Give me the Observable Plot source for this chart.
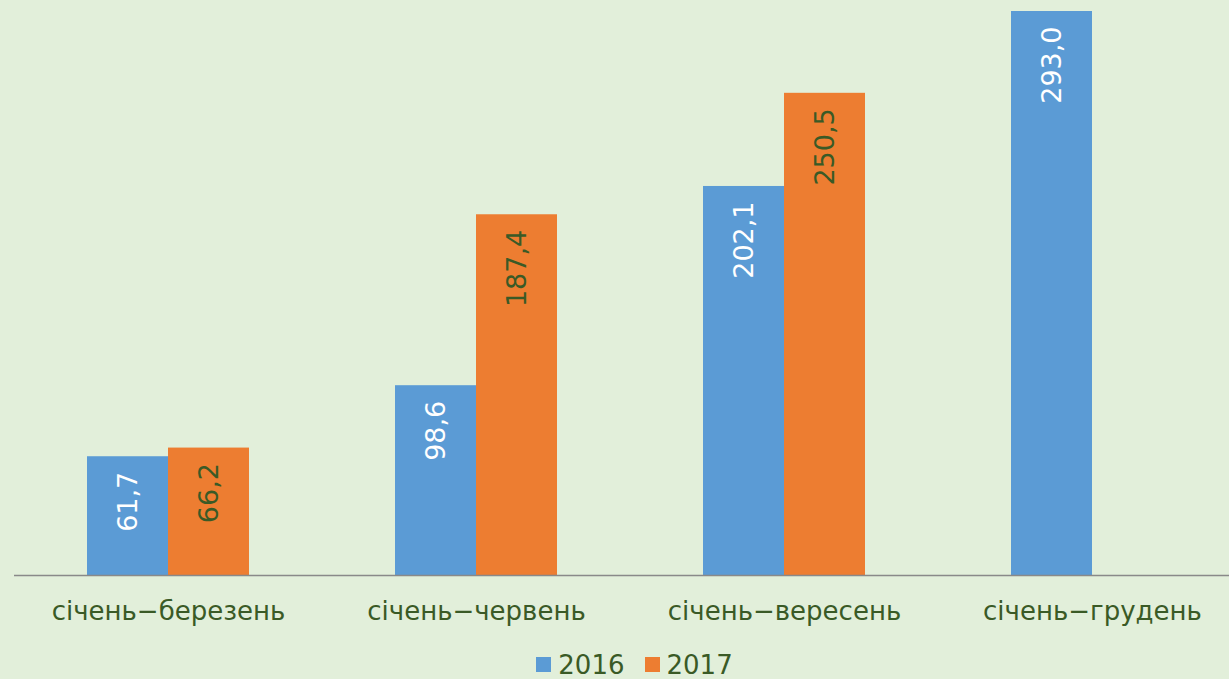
<!DOCTYPE html>
<html><head><meta charset="utf-8">
<script src="https://cdn.jsdelivr.net/npm/d3@7"></script>
<script src="https://cdn.jsdelivr.net/npm/@observablehq/plot@0.6"></script>
<style>
html,body{margin:0;padding:0;background:#e2efda;width:1229px;height:679px;overflow:hidden;font-family:"DejaVu Sans",Verdana,sans-serif;}
#chart svg{display:block;}
#legend{display:flex;justify-content:center;align-items:center;height:29px;font-size:26px;color:#3a5a26;padding-left:40px;}
#legend .item{display:flex;align-items:center;margin:0 10px;}
#legend .sw{width:15px;height:15px;margin-right:7px;}
</style></head><body><div id="chart"></div><div id="legend"></div>
<script>
const periods = ["січень−березень", "січень−червень", "січень−вересень", "січень−грудень"];
const years = ["2016", "2017"];
const values2016 = [61.7, 98.6, 202.1, 293.0];
const values2017 = [66.2, 187.4, 250.5, null];
const colors = ["#5b9bd5", "#ed7d31"];

const data = [];
periods.forEach((p, i) => {
  if (values2016[i] != null) data.push({period: p, year: "2016", value: values2016[i]});
  if (values2017[i] != null) data.push({period: p, year: "2017", value: values2017[i]});
});
const fmt = v => v.toFixed(1).replace(".", ",");
const textColor = "#3a5a26";

const plot = Plot.plot({
  width: 1229, height: 650,
  marginTop: 11, marginBottom: 75, marginLeft: 13, marginRight: 0,
  style: {background: "transparent", fontFamily: "'DejaVu Sans', Verdana, sans-serif", fontSize: "26px", color: textColor},
  fx: {domain: periods, range: [13, 1246], padding: 0, label: null},
  x: {domain: years, axis: null, paddingInner: 0, paddingOuter: 0.89},
  y: {domain: [0, 293], axis: null},
  color: {domain: years, range: colors},
  marks: [
    Plot.barY(data, {fx: "period", x: "year", y: "value", fill: "year"}),
    Plot.ruleY([0], {stroke: "#898989", strokeWidth: 1.5}),
    Plot.text(data.filter(d => d.year === "2016"), {fx: "period", x: "year", y: "value", text: d => fmt(d.value), rotate: -90, textAnchor: "end", lineAnchor: "middle", dy: 15, fill: "white", fontSize: 27}),
    Plot.text(data.filter(d => d.year === "2017"), {fx: "period", x: "year", y: "value", text: d => fmt(d.value), rotate: -90, textAnchor: "end", lineAnchor: "middle", dy: 15, fill: textColor, fontSize: 27}),
    Plot.axisFx({anchor: "bottom", tickSize: 0, tickPadding: 26, fontSize: 26, fill: textColor, label: null})
  ]
});
document.getElementById("chart").appendChild(plot);

const legend = document.getElementById("legend");
years.forEach((y, i) => {
  const item = document.createElement("div");
  item.className = "item";
  const sw = document.createElement("div");
  sw.className = "sw";
  sw.style.background = colors[i];
  const t = document.createElement("span");
  t.textContent = y;
  item.appendChild(sw); item.appendChild(t);
  legend.appendChild(item);
});
</script>
</body></html>
